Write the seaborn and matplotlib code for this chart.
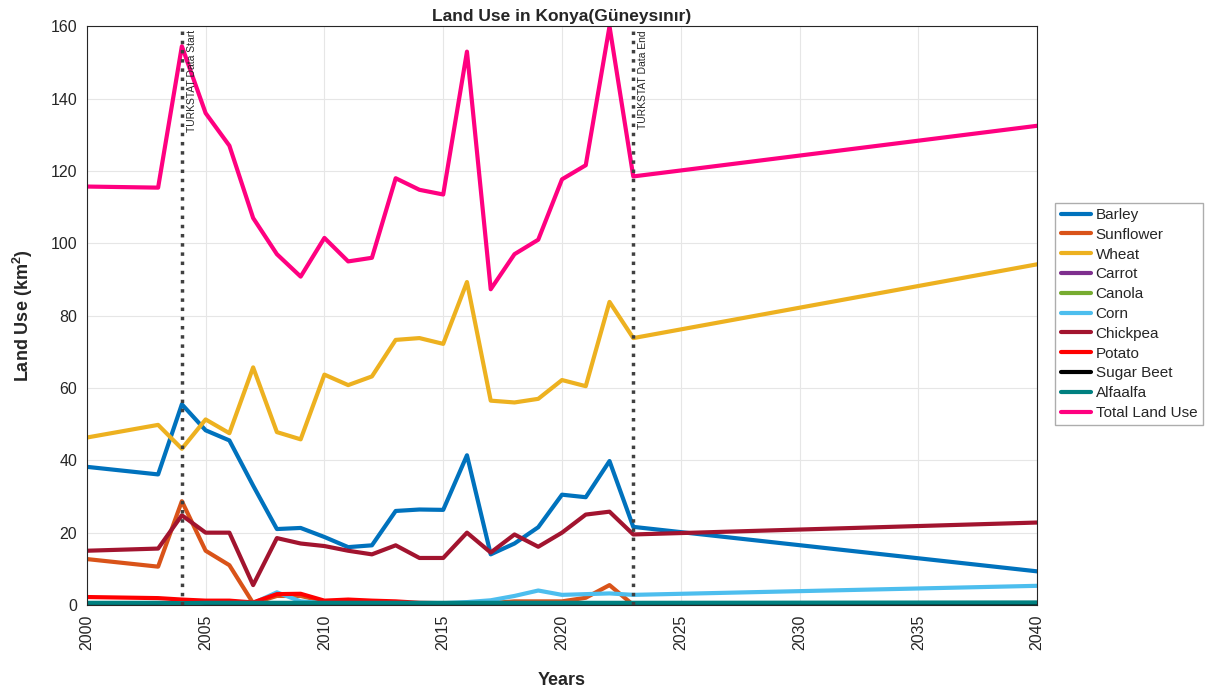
import matplotlib
matplotlib.use("Agg")
import matplotlib.pyplot as plt
import pandas as pd
import seaborn as sns

# Years (2023 -> 2040 is a straight projection segment)
years = [2000, 2003, 2004, 2005, 2006, 2007, 2008, 2009, 2010, 2011, 2012,
         2013, 2014, 2015, 2016, 2017, 2018, 2019, 2020, 2021, 2022, 2023, 2040]

barley = [38.2, 36.1, 55.5, 48.3, 45.5, 33.0, 21.0, 21.3, 18.8, 16.0, 16.5,
          26.0, 26.4, 26.3, 41.4, 14.0, 17.0, 21.5, 30.5, 29.8, 39.8, 21.6, 9.3]
sunflower = [12.7, 10.6, 28.7, 15.0, 11.0, 0.5, 2.5, 2.5, 1.0, 1.0, 0.8,
             0.6, 0.3, 0.3, 0.3, 0.5, 1.0, 1.0, 1.0, 2.0, 5.5, 0.0, 0.0]
wheat = [46.3, 49.8, 43.2, 51.3, 47.5, 65.7, 47.8, 45.8, 63.7, 60.8, 63.2,
         73.3, 73.8, 72.2, 89.3, 56.5, 56.0, 57.0, 62.2, 60.5, 83.8, 73.8, 94.2]
carrot = [0.05] * 23
canola = [0.0] * 23
corn = [0.5, 0.5, 0.3, 0.5, 0.5, 0.5, 3.5, 1.0, 0.5, 0.5, 0.5,
        0.5, 0.5, 0.5, 0.8, 1.3, 2.5, 4.0, 2.8, 3.0, 3.2, 2.8, 5.3]
chickpea = [15.0, 15.6, 24.8, 20.0, 20.0, 5.5, 18.5, 17.0, 16.3, 15.0, 14.0,
            16.5, 13.0, 13.0, 20.0, 14.5, 19.5, 16.1, 20.0, 25.0, 25.8, 19.5, 22.8]
potato = [2.2, 1.9, 1.5, 1.2, 1.2, 0.7, 3.0, 3.1, 1.2, 1.5, 1.2,
          1.0, 0.6, 0.5, 0.4, 0.3, 0.3, 0.3, 0.3, 0.3, 0.3, 0.2, 0.2]
sugar_beet = [0.2, 0.2, 0.2, 0.2, 0.2, 0.2, 0.3, 0.3, 0.2, 0.2, 0.2,
              0.2, 0.2, 0.2, 0.2, 0.2, 0.2, 0.2, 0.2, 0.2, 0.2, 0.1, 0.1]
alfaalfa = [0.6, 0.6, 0.5, 0.6, 0.6, 0.6, 0.6, 0.6, 0.6, 0.6, 0.6,
            0.6, 0.6, 0.6, 0.6, 0.6, 0.6, 0.6, 0.6, 0.6, 0.6, 0.6, 0.7]
total = [115.7, 115.4, 154.5, 136.0, 127.0, 107.0, 97.0, 90.8, 101.5, 95.0, 96.0,
         118.0, 114.8, 113.5, 153.0, 87.3, 97.0, 101.0, 117.7, 121.6, 160.0, 118.5, 132.5]

crops = ["Barley", "Sunflower", "Wheat", "Carrot", "Canola", "Corn", "Chickpea",
         "Potato", "Sugar Beet", "Alfaalfa", "Total Land Use"]
series = [barley, sunflower, wheat, carrot, canola, corn, chickpea,
          potato, sugar_beet, alfaalfa, total]
colors = ["#0072BD", "#D95319", "#EDB120", "#7E2F8E", "#77AC30", "#4DBEEE",
          "#A2142F", "#FF0000", "#000000", "#008080", "#FF0080"]

rows = []
for name, vals in zip(crops, series):
    for y, v in zip(years, vals):
        rows.append({"Year": y, "Crop": name, "Area": v})
df = pd.DataFrame(rows)

sns.set_style("whitegrid")
plt.rcParams["font.family"] = ["Liberation Sans", "DejaVu Sans"]
plt.rcParams["mathtext.fontset"] = "custom"
plt.rcParams["mathtext.bf"] = "Liberation Sans:bold"
plt.rcParams["mathtext.rm"] = "Liberation Sans"

fig, ax = plt.subplots(figsize=(12.06, 6.93), dpi=100)
fig.subplots_adjust(left=0.072, right=0.86, top=0.962, bottom=0.127)

sns.lineplot(data=df, x="Year", y="Area", hue="Crop", hue_order=crops,
             palette=colors, linewidth=3, ax=ax)

# TURKSTAT data window
for xv, lab in [(2004, "TURKSTAT Data Start"), (2023, "TURKSTAT Data End")]:
    ax.axvline(xv, color="#404040", linestyle=":", linewidth=2.5)
    ax.text(xv + 0.2, 159, lab, rotation=90, va="top", ha="left", fontsize=7.5)

ax.set_xlim(2000, 2040)
ax.set_ylim(0, 160)
ax.set_xticks(range(2000, 2041, 5))
ax.set_yticks(range(0, 161, 20))
ax.tick_params(axis="x", labelrotation=90)
ax.tick_params(labelsize=11.5, colors="#262626")
ax.grid(True, color="#e6e6e6", linewidth=0.8)
for s in ax.spines.values():
    s.set_color("#262626")
    s.set_linewidth(0.8)

ax.set_title("Land Use in Konya(Güneysınır)", fontsize=12.5, fontweight="bold", pad=4)
ax.set_xlabel("Years", fontsize=13, fontweight="bold", labelpad=16)
ax.set_ylabel("Land Use (km$\\mathbf{^2}$)", fontsize=13, fontweight="bold", labelpad=11)

ax.legend(loc="center left", bbox_to_anchor=(1.019, 0.503), fontsize=11,
          frameon=True, fancybox=False, edgecolor="#999999", handlelength=2.0,
          borderpad=0.35, labelspacing=0.38, handletextpad=0.3,
          borderaxespad=0)

plt.savefig("out.png", dpi=100)
